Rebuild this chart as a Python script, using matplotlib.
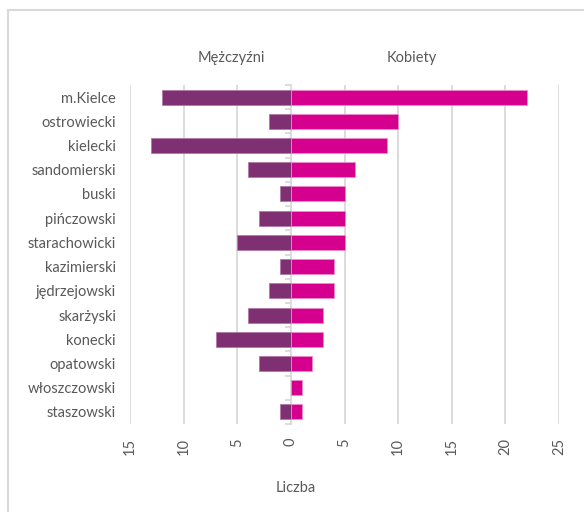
import matplotlib.pyplot as plt
from matplotlib.patches import Rectangle
import numpy as np

powiaty = ['m.Kielce', 'ostrowiecki', 'kielecki', 'sandomierski', 'buski',
           'pińczowski', 'starachowicki', 'kazimierski', 'jędrzejowski',
           'skarżyski', 'konecki', 'opatowski', 'włoszczowski', 'staszowski']
mezczyzni = [12, 2, 13, 4, 1, 3, 5, 1, 2, 4, 7, 3, 0, 1]
kobiety = [22, 10, 9, 6, 5, 5, 5, 4, 4, 3, 3, 2, 1, 1]
x_ticks = [-15, -10, -5, 0, 5, 10, 15, 20, 25]

TXT = '#595959'
GRID = '#D9D9D9'
FS = 10.5
plt.rcParams['font.family'] = ['Lato', 'DejaVu Sans']

fig = plt.figure(figsize=(5.84, 5.12), dpi=100)
ax = fig.add_axes([130/584, 1 - 424/512, 429/584, 339/512])

y = np.arange(len(powiaty))
ax.barh(y, [-m for m in mezczyzni], height=0.62, color='#7F3072',
        edgecolor='#B27BA8', linewidth=0.6, zorder=3)
ax.barh(y, kobiety, height=0.62, color='#D6008F',
        edgecolor='#EE8CCB', linewidth=0.6, zorder=3)

ax.set_xlim(-15, 25)
ax.set_ylim(len(powiaty) - 0.5, -0.5)
ax.set_xticks(x_ticks)
ax.set_xticklabels([str(abs(t)) for t in x_ticks], rotation=90, fontsize=FS, color=TXT)
ax.set_yticks(y)
ax.set_yticklabels(powiaty, fontsize=FS, color=TXT)
ax.tick_params(axis='both', length=0)
ax.tick_params(axis='y', pad=10)
ax.tick_params(axis='x', pad=10)

for t in x_ticks:
    if t != 0:
        ax.axvline(t, color=GRID, linewidth=1.3, zorder=1)
for s in ax.spines.values():
    s.set_visible(False)

# axis at zero with boundary ticks
sec = ax.secondary_yaxis(15 / 40)
sec.set_yticks(np.arange(len(powiaty) + 1) - 0.5)
sec.set_yticklabels([])
sec.tick_params(axis='y', length=4, width=1.3, color=GRID, direction='out')
sec.spines['left'].set_color(GRID)
sec.spines['left'].set_linewidth(1.3)
sec.spines['left'].set_zorder(4)

fig.text(231/584, 1 - 58/512, 'Mężczyźni', ha='center', va='center', fontsize=FS, color=TXT)
fig.text(412/584, 1 - 58/512, 'Kobiety', ha='center', va='center', fontsize=FS, color=TXT)
fig.text(296/584, 1 - 488/512, 'Liczba', ha='center', va='center', fontsize=FS, color=TXT)

fig.patches.append(Rectangle((8/584, -0.05), 1.1, 1 - 10/512 + 0.05, transform=fig.transFigure,
                             fill=False, edgecolor=GRID, linewidth=1.5))

fig.savefig('out.png', dpi=100)
